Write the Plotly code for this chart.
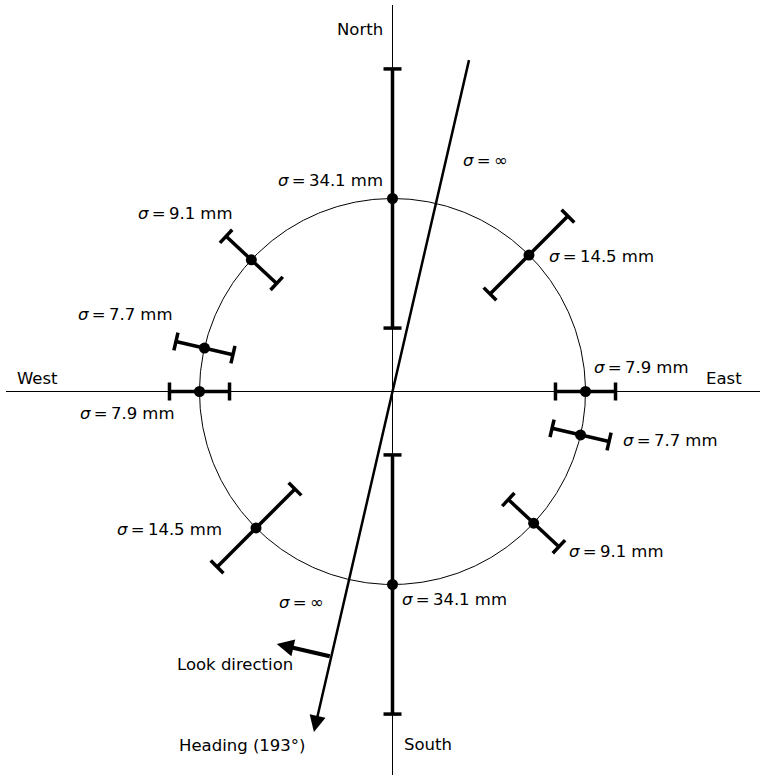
import numpy as np
import plotly.graph_objects as go

# ---------------- data ----------------
azimuth_deg = [0, 45, 90, 103, 133, 180, 225, 270, 283, 313]
sigma_mm = [34.1, 14.5, 7.9, 7.7, 9.1, 34.1, 14.5, 7.9, 7.7, 9.1]
heading_deg = 193
look_deg = heading_deg + 90
axis_labels = ["North", "East", "South", "West"]

# ---------------- style / layout constants ----------------
W, H = 767, 778
PX = 193.0            # pixels per unit radius
CX, CY = 392.5, 391.5  # centre in pixels
MM2U = 3.8 / PX       # error-bar half length per mm
CAP = 9.0 / PX        # half cap length
FONT = "DejaVu Sans"
FS = 16.5
TS = "\u2009"

# label pixel offsets (dx right, dy up) relative to each point
label_off = [(-62, 18), (73, -1), (56, 24), (90, -6), (83, -28),
             (62, -15), (-87, -2), (-72, -22), (-79, 34), (-66, 46)]


def u(az_deg, r=1.0):
    a = np.radians(az_deg)
    return r * np.sin(a), r * np.cos(a)


fig = go.Figure()

# axes lines
fig.add_trace(go.Scatter(x=[(6 - CX) / PX, (760 - CX) / PX], y=[0, 0], mode="lines",
                         line=dict(color="black", width=1), hoverinfo="skip"))
fig.add_trace(go.Scatter(x=[0, 0], y=[(CY - 5) / PX, (CY - 775) / PX], mode="lines",
                         line=dict(color="black", width=1), hoverinfo="skip"))

# circle
t = np.linspace(0, 360, 721)
cx_, cy_ = u(t)
fig.add_trace(go.Scatter(x=cx_, y=cy_, mode="lines", line=dict(color="black", width=1),
                         hoverinfo="skip"))

# error bars + caps
bx, by = [], []
for az, s in zip(azimuth_deg, sigma_mm):
    px, py = u(az)
    dx, dy = u(az, s * MM2U)
    tx, ty = u(az + 90, CAP)
    bx += [px - dx, px + dx, None]
    by += [py - dy, py + dy, None]
    for sgn in (-1, 1):
        ex, ey = px + sgn * dx, py + sgn * dy
        bx += [ex - tx, ex + tx, None]
        by += [ey - ty, ey + ty, None]
fig.add_trace(go.Scatter(x=bx, y=by, mode="lines", line=dict(color="black", width=3.5),
                         hoverinfo="skip"))

# points
ptx, pty = u(np.array(azimuth_deg))
fig.add_trace(go.Scatter(x=ptx, y=pty, mode="markers",
                         marker=dict(color="black", size=11), hoverinfo="skip"))

annotations = []
# sigma labels
for (az, s), (ox, oy) in zip(zip(azimuth_deg, sigma_mm), label_off):
    px, py = u(az)
    annotations.append(dict(x=px, y=py, xref="x", yref="y", showarrow=False,
                            text=f"<i>σ</i>{TS}={TS}{s} mm", xshift=ox, yshift=oy,
                            font=dict(family=FONT, size=FS, color="black")))

# heading line with arrow
hx0, hy0 = u(heading_deg + 180, 1.77)
hx1, hy1 = u(heading_deg, 1.81)
annotations.append(dict(x=hx1, y=hy1, ax=hx0, ay=hy0, xref="x", yref="y", axref="x", ayref="y",
                        text="", showarrow=True, arrowhead=2, arrowsize=1.3, arrowwidth=2.5,
                        arrowcolor="black", standoff=0, startstandoff=0))

# look direction arrow
lx0, ly0 = u(heading_deg, 1.41)
ldx, ldy = u(look_deg, 0.29)
annotations.append(dict(x=lx0 + ldx, y=ly0 + ldy, ax=lx0, ay=ly0, xref="x", yref="y",
                        axref="x", ayref="y", text="", showarrow=True, arrowhead=2,
                        arrowsize=0.85, arrowwidth=4, arrowcolor="black", standoff=0))

# text labels (pixel positions converted to data)
def pxy(x, y):
    return (x - CX) / PX, (CY - y) / PX

texts = [
    ("North", 359.5, 29),
    ("East", 724, 378),
    ("South", 428, 744),
    ("West", 37, 378),
    (f"<i>σ</i>{TS}={TS}∞", 485, 160),
    (f"<i>σ</i>{TS}={TS}∞", 301, 602),
    ("Look direction", 235, 664),
    (f"Heading ({heading_deg}°)", 242, 745),
]
for txt, x, y in texts:
    dx_, dy_ = pxy(x, y)
    annotations.append(dict(x=dx_, y=dy_, xref="x", yref="y", showarrow=False, text=txt,
                            font=dict(family=FONT, size=FS, color="black")))

fig.update_layout(
    width=W, height=H, margin=dict(l=0, r=0, t=0, b=0),
    paper_bgcolor="white", plot_bgcolor="white", showlegend=False,
    annotations=annotations,
    xaxis=dict(range=[-CX / PX, (W - CX) / PX], visible=False, fixedrange=True),
    yaxis=dict(range=[-(H - CY) / PX, CY / PX], visible=False, fixedrange=True),
)

fig.write_html("out.html", config={"displayModeBar": False},
               post_script="document.body.style.margin='0';document.body.style.overflow='hidden';")
